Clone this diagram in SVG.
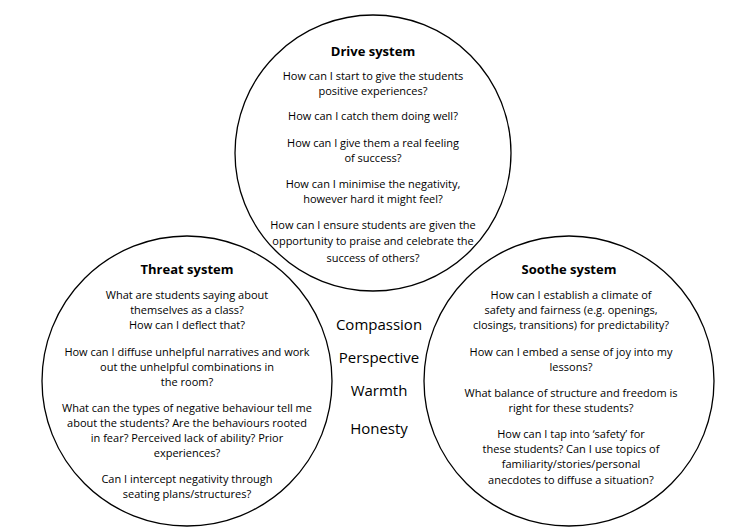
<svg xmlns="http://www.w3.org/2000/svg" width="756" height="532" viewBox="0 0 756 532">
<style>
circle{fill:#fff;stroke:#000;stroke-width:1.3}
text{font-family:"Open Sans","DejaVu Sans",sans-serif;font-size:11px;fill:#000;text-anchor:middle}
.t{font-weight:bold;font-size:13px}
.c{font-size:15px}
</style>
<rect width="756" height="532" fill="#fff"/>
<g id="drive">
<circle cx="373" cy="153" r="138"/>
<text class="t" x="373" y="56">Drive system</text>
<text x="373" y="80">How can I start to give the students</text>
<text x="373" y="95">positive experiences?</text>
<text x="373" y="120">How can I catch them doing well?</text>
<text x="373" y="147">How can I give them a real feeling</text>
<text x="373" y="162">of success?</text>
<text x="373" y="188">How can I minimise the negativity,</text>
<text x="373" y="203">however hard it might feel?</text>
<text x="373" y="229">How can I ensure students are given the</text>
<text x="373" y="245">opportunity to praise and celebrate the</text>
<text x="373" y="262">success of others?</text>
</g>
<g id="threat">
<circle cx="187" cy="381" r="145"/>
<text class="t" x="187" y="274">Threat system</text>
<text x="187" y="299">What are students saying about</text>
<text x="187" y="314">themselves as a class?</text>
<text x="187" y="329">How can I deflect that?</text>
<text x="187" y="356">How can I diffuse unhelpful narratives and work</text>
<text x="187" y="371">out the unhelpful combinations in</text>
<text x="187" y="386">the room?</text>
<text x="187" y="412">What can the types of negative behaviour tell me</text>
<text x="187" y="427">about the students? Are the behaviours rooted</text>
<text x="187" y="442">in fear? Perceived lack of ability? Prior</text>
<text x="187" y="457">experiences?</text>
<text x="187" y="483">Can I intercept negativity through</text>
<text x="187" y="498">seating plans/structures?</text>
</g>
<g id="soothe">
<circle cx="569" cy="381" r="145"/>
<text class="t" x="569" y="274">Soothe system</text>
<text x="571" y="299">How can I establish a climate of</text>
<text x="571" y="314">safety and fairness (e.g. openings,</text>
<text x="571" y="329">closings, transitions) for predictability?</text>
<text x="571" y="356">How can I embed a sense of joy into my</text>
<text x="571" y="371">lessons?</text>
<text x="571" y="397">What balance of structure and freedom  is</text>
<text x="571" y="412">right for these students?</text>
<text x="571" y="438">How can I tap into ‘safety’ for</text>
<text x="571" y="453">these students? Can I use topics of</text>
<text x="571" y="468">familiarity/stories/personal</text>
<text x="571" y="484">anecdotes to diffuse a situation?</text>
</g>
<g id="values">
<text class="c" x="379" y="330">Compassion</text>
<text class="c" x="379" y="363">Perspective</text>
<text class="c" x="379" y="396">Warmth</text>
<text class="c" x="379" y="434">Honesty</text>
</g>
<g id="connectors"/>
</svg>
